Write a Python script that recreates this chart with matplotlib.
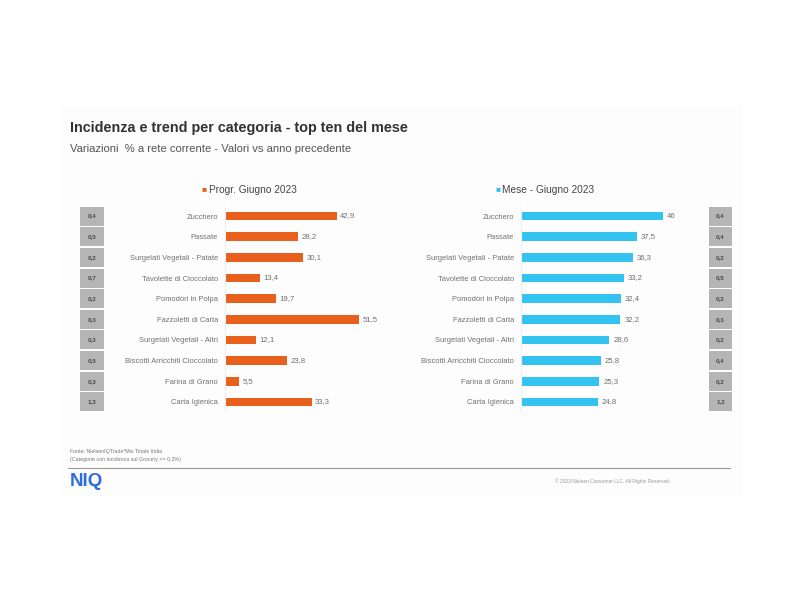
import matplotlib.pyplot as plt
from matplotlib.patches import Rectangle

plt.rcParams['font.family'] = ['Liberation Sans', 'DejaVu Sans']

categorie_progr = ["Zucchero", "Passate", "Surgelati Vegetali - Patate", "Tavolette di Cioccolato",
                   "Pomodori in Polpa", "Fazzoletti di Carta", "Surgelati Vegetali - Altri",
                   "Biscotti Arricchiti Cioccolato", "Farina di Grano", "Carta Igienica"]
valori_progr = [42.9, 28.2, 30.1, 13.4, 19.7, 51.5, 12.1, 23.8, 5.5, 33.3]
incidenza_progr = ["0,4", "0,5", "0,2", "0,7", "0,2", "0,3", "0,3", "0,5", "0,3", "1,3"]

categorie_mese = ["Zucchero", "Passate", "Surgelati Vegetali - Patate", "Tavolette di Cioccolato",
                  "Pomodori in Polpa", "Fazzoletti di Carta", "Surgelati Vegetali - Altri",
                  "Biscotti Arricchiti Cioccolato", "Farina di Grano", "Carta Igienica"]
valori_mese = [46, 37.5, 36.3, 33.2, 32.4, 32.2, 28.6, 25.8, 25.3, 24.8]
incidenza_mese = ["0,4", "0,4", "0,2", "0,5", "0,2", "0,3", "0,2", "0,4", "0,2", "1,2"]

ARANCIO = "#E8601C"
CIANO = "#33C3F0"
GRIGIO_BOX = "#B5B5B5"
GRIGIO_TXT = "#707070"

W, H = 800, 600
fig = plt.figure(figsize=(8, 6), dpi=100)
fig.patch.set_facecolor("white")


def px_axes(x0, y0, x1, y1):
    # pixel coords with y measured from the top
    return fig.add_axes([x0 / W, 1 - y1 / H, (x1 - x0) / W, (y1 - y0) / H])


# faint slide background
bg = px_axes(60, 105, 742, 497)
bg.add_patch(Rectangle((0, 0), 1, 1, color="#FDFDFD", transform=bg.transAxes))
bg.axis("off")

fig.text(70 / W, 1 - 128 / H, "Incidenza e trend per categoria - top ten del mese",
         fontsize=10.4, fontweight="bold", color="#333333", va="center")
fig.text(70 / W, 1 - 149 / H, "Variazioni  % a rete corrente - Valori vs anno precedente",
         fontsize=8.1, color="#555555", va="center")

y_top, y_bot = 205.7, 412.3
n = len(valori_progr)
pos = list(range(n))


def pannello(x0, scala, valori, categorie, colore, legenda, leg_x):
    ax = px_axes(x0, y_top, x0 + scala * 60, y_bot)
    ax.barh(pos, valori, height=0.42, color=colore)
    ax.set_xlim(0, 60)
    ax.set_ylim(n - 0.5, -0.5)
    ax.set_yticks(pos)
    ax.set_yticklabels(categorie, fontsize=5.4, color=GRIGIO_TXT)
    ax.tick_params(axis="y", length=0, pad=5)
    ax.set_xticks([])
    for s in ["top", "right", "bottom"]:
        ax.spines[s].set_visible(False)
    ax.spines["left"].set_color("#EEEEEE")
    ax.patch.set_alpha(0)
    for i, v in enumerate(valori):
        testo = f"{v:g}".replace(".", ",")
        ax.text(v + 1.3, i, testo, fontsize=5.6, color=GRIGIO_TXT, va="center")
    fig.text(leg_x / W, 1 - 190 / H, "\u25A0", fontsize=6, color=colore, va="center")
    fig.text((leg_x + 7) / W, 1 - 190 / H, legenda, fontsize=7.3, color="#444444", va="center")
    return ax


def colonna_box(x0, x1, etichette):
    ax = px_axes(x0, y_top, x1, y_bot)
    ax.barh(pos, [1] * n, height=0.92, color=GRIGIO_BOX)
    ax.set_xlim(0, 1)
    ax.set_ylim(n - 0.5, -0.5)
    ax.axis("off")
    for i, t in enumerate(etichette):
        ax.text(0.5, i, t, fontsize=4.5, fontweight="bold", color="#4A4A4A",
                ha="center", va="center")


pannello(225, 2.6, valori_progr, categorie_progr, ARANCIO, "Progr. Giugno 2023", 202)
pannello(521, 3.09, valori_mese, categorie_mese, CIANO, "Mese - Giugno 2023", 495)
colonna_box(80, 104, incidenza_progr)
colonna_box(709, 732, incidenza_mese)

fig.text(70 / W, 1 - 452 / H, "Fonte: NielsenIQTrade*Mis Totale Italia",
         fontsize=3.8, color="#777777", va="center")
fig.text(70 / W, 1 - 460 / H, "(Categorie con incidenza sul Grocery >= 0,2%)",
         fontsize=3.8, color="#777777", va="center")
fig.add_artist(plt.Line2D([68 / W, 730 / W], [1 - 468 / H, 1 - 468 / H],
                          color="#999999", lw=0.8))
fig.text(70 / W, 1 - 481 / H, "NIQ", fontsize=13.5, fontweight="bold",
         color="#2F6BE0", va="center")
fig.text(555 / W, 1 - 481 / H, "\u00A9 2023 Nielsen Consumer LLC. All Rights Reserved.",
         fontsize=3.5, color="#999999", va="center")

fig.savefig("out.png", dpi=100)
